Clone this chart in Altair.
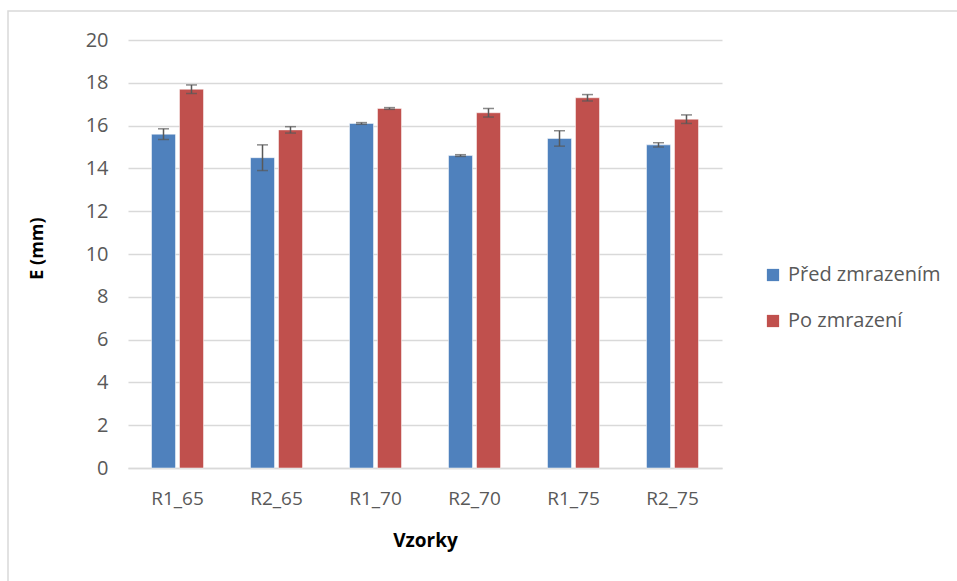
import altair as alt
import pandas as pd

samples = ["R1_65", "R2_65", "R1_70", "R2_70", "R1_75", "R2_75"]
series = ["Před zmrazením", "Po zmrazení"]
before_vals = [15.6, 14.5, 16.1, 14.6, 15.4, 15.1]
before_err = [0.25, 0.6, 0.04, 0.04, 0.36, 0.1]
after_vals = [17.7, 15.8, 16.8, 16.6, 17.3, 16.3]
after_err = [0.2, 0.15, 0.04, 0.2, 0.15, 0.2]
colors = ["#4f81bd", "#c0504d"]

rows = []
for i, s in enumerate(samples):
    rows.append({"sample": s, "series": series[0], "value": before_vals[i],
                 "lo": before_vals[i] - before_err[i], "hi": before_vals[i] + before_err[i]})
    rows.append({"sample": s, "series": series[1], "value": after_vals[i],
                 "lo": after_vals[i] - after_err[i], "hi": after_vals[i] + after_err[i]})
df = pd.DataFrame(rows)

FONT = "Open Sans"
W, H = 594, 428

x_enc = alt.X("sample:N", sort=samples,
              scale=alt.Scale(paddingInner=0.475, paddingOuter=0.2375),
              axis=alt.Axis(title="Vzorky", labelAngle=0, labelFontSize=19, labelColor="#595959",
                            labelFont=FONT, labelPadding=21, ticks=False, domainColor="#d9d9d9",
                            domainWidth=1.5, titleFont=FONT, titleFontSize=19, titleFontWeight="bold",
                            titleColor="#000000", titleX=W / 2, titleY=72, titleBaseline="middle"))
xoff = alt.XOffset("series:N", sort=series, scale=alt.Scale(paddingInner=0.1429, paddingOuter=0))
y_enc = alt.Y("value:Q", scale=alt.Scale(domain=[0, 20]),
              axis=alt.Axis(title="E (mm)", values=list(range(0, 21, 2)), labelFontSize=20,
                            labelColor="#595959", labelFont=FONT, labelPadding=20, ticks=False,
                            domain=False, gridColor="#d9d9d9", gridWidth=1.5,
                            titleFont=FONT, titleFontSize=18, titleFontWeight="bold", titleColor="#000000",
                            titleX=-91, titleY=208, titleAngle=270, titleAlign="center",
                            titleBaseline="middle"))

base = alt.Chart(df)
bars = base.mark_bar(stroke="white", strokeWidth=0.5).encode(
    x=x_enc, xOffset=xoff, y=y_enc,
    color=alt.Color("series:N", sort=series, scale=alt.Scale(domain=series, range=colors),
                    legend=alt.Legend(title=None, orient="none", legendX=635, legendY=225,
                                      symbolType="square", symbolSize=150, symbolStrokeWidth=0,
                                      labelFont=FONT, labelFontSize=20, labelColor="#595959",
                                      rowPadding=26, labelOffset=5)))
rules = base.mark_rule(color="#595959", strokeWidth=1.5).encode(
    x=alt.X("sample:N", sort=samples), xOffset=xoff,
    y=alt.Y("lo:Q"), y2="hi:Q")
caps_lo = base.mark_tick(color="#595959", thickness=1.5, size=11, orient="horizontal").encode(
    x=alt.X("sample:N", sort=samples), xOffset=xoff, y=alt.Y("lo:Q"))
caps_hi = base.mark_tick(color="#595959", thickness=1.5, size=11, orient="horizontal").encode(
    x=alt.X("sample:N", sort=samples), xOffset=xoff, y=alt.Y("hi:Q"))
border = alt.Chart(pd.DataFrame({"a": [0]})).mark_rect(fill=None, stroke="#d9d9d9", strokeWidth=1.5).encode(
    x=alt.value(-120), x2=alt.value(W + 240), y=alt.value(-29), y2=alt.value(H + 140))

chart = alt.layer(bars, rules, caps_lo, caps_hi, border).properties(
    width=W, height=H,
    autosize=alt.AutoSizeParams(type="none"),
    padding={"left": 128, "top": 40, "right": 235, "bottom": 113},
).configure(background="white", view=alt.ViewConfig(stroke=None))

chart.save("out.html", embed_options={"renderer": "svg", "actions": False})
